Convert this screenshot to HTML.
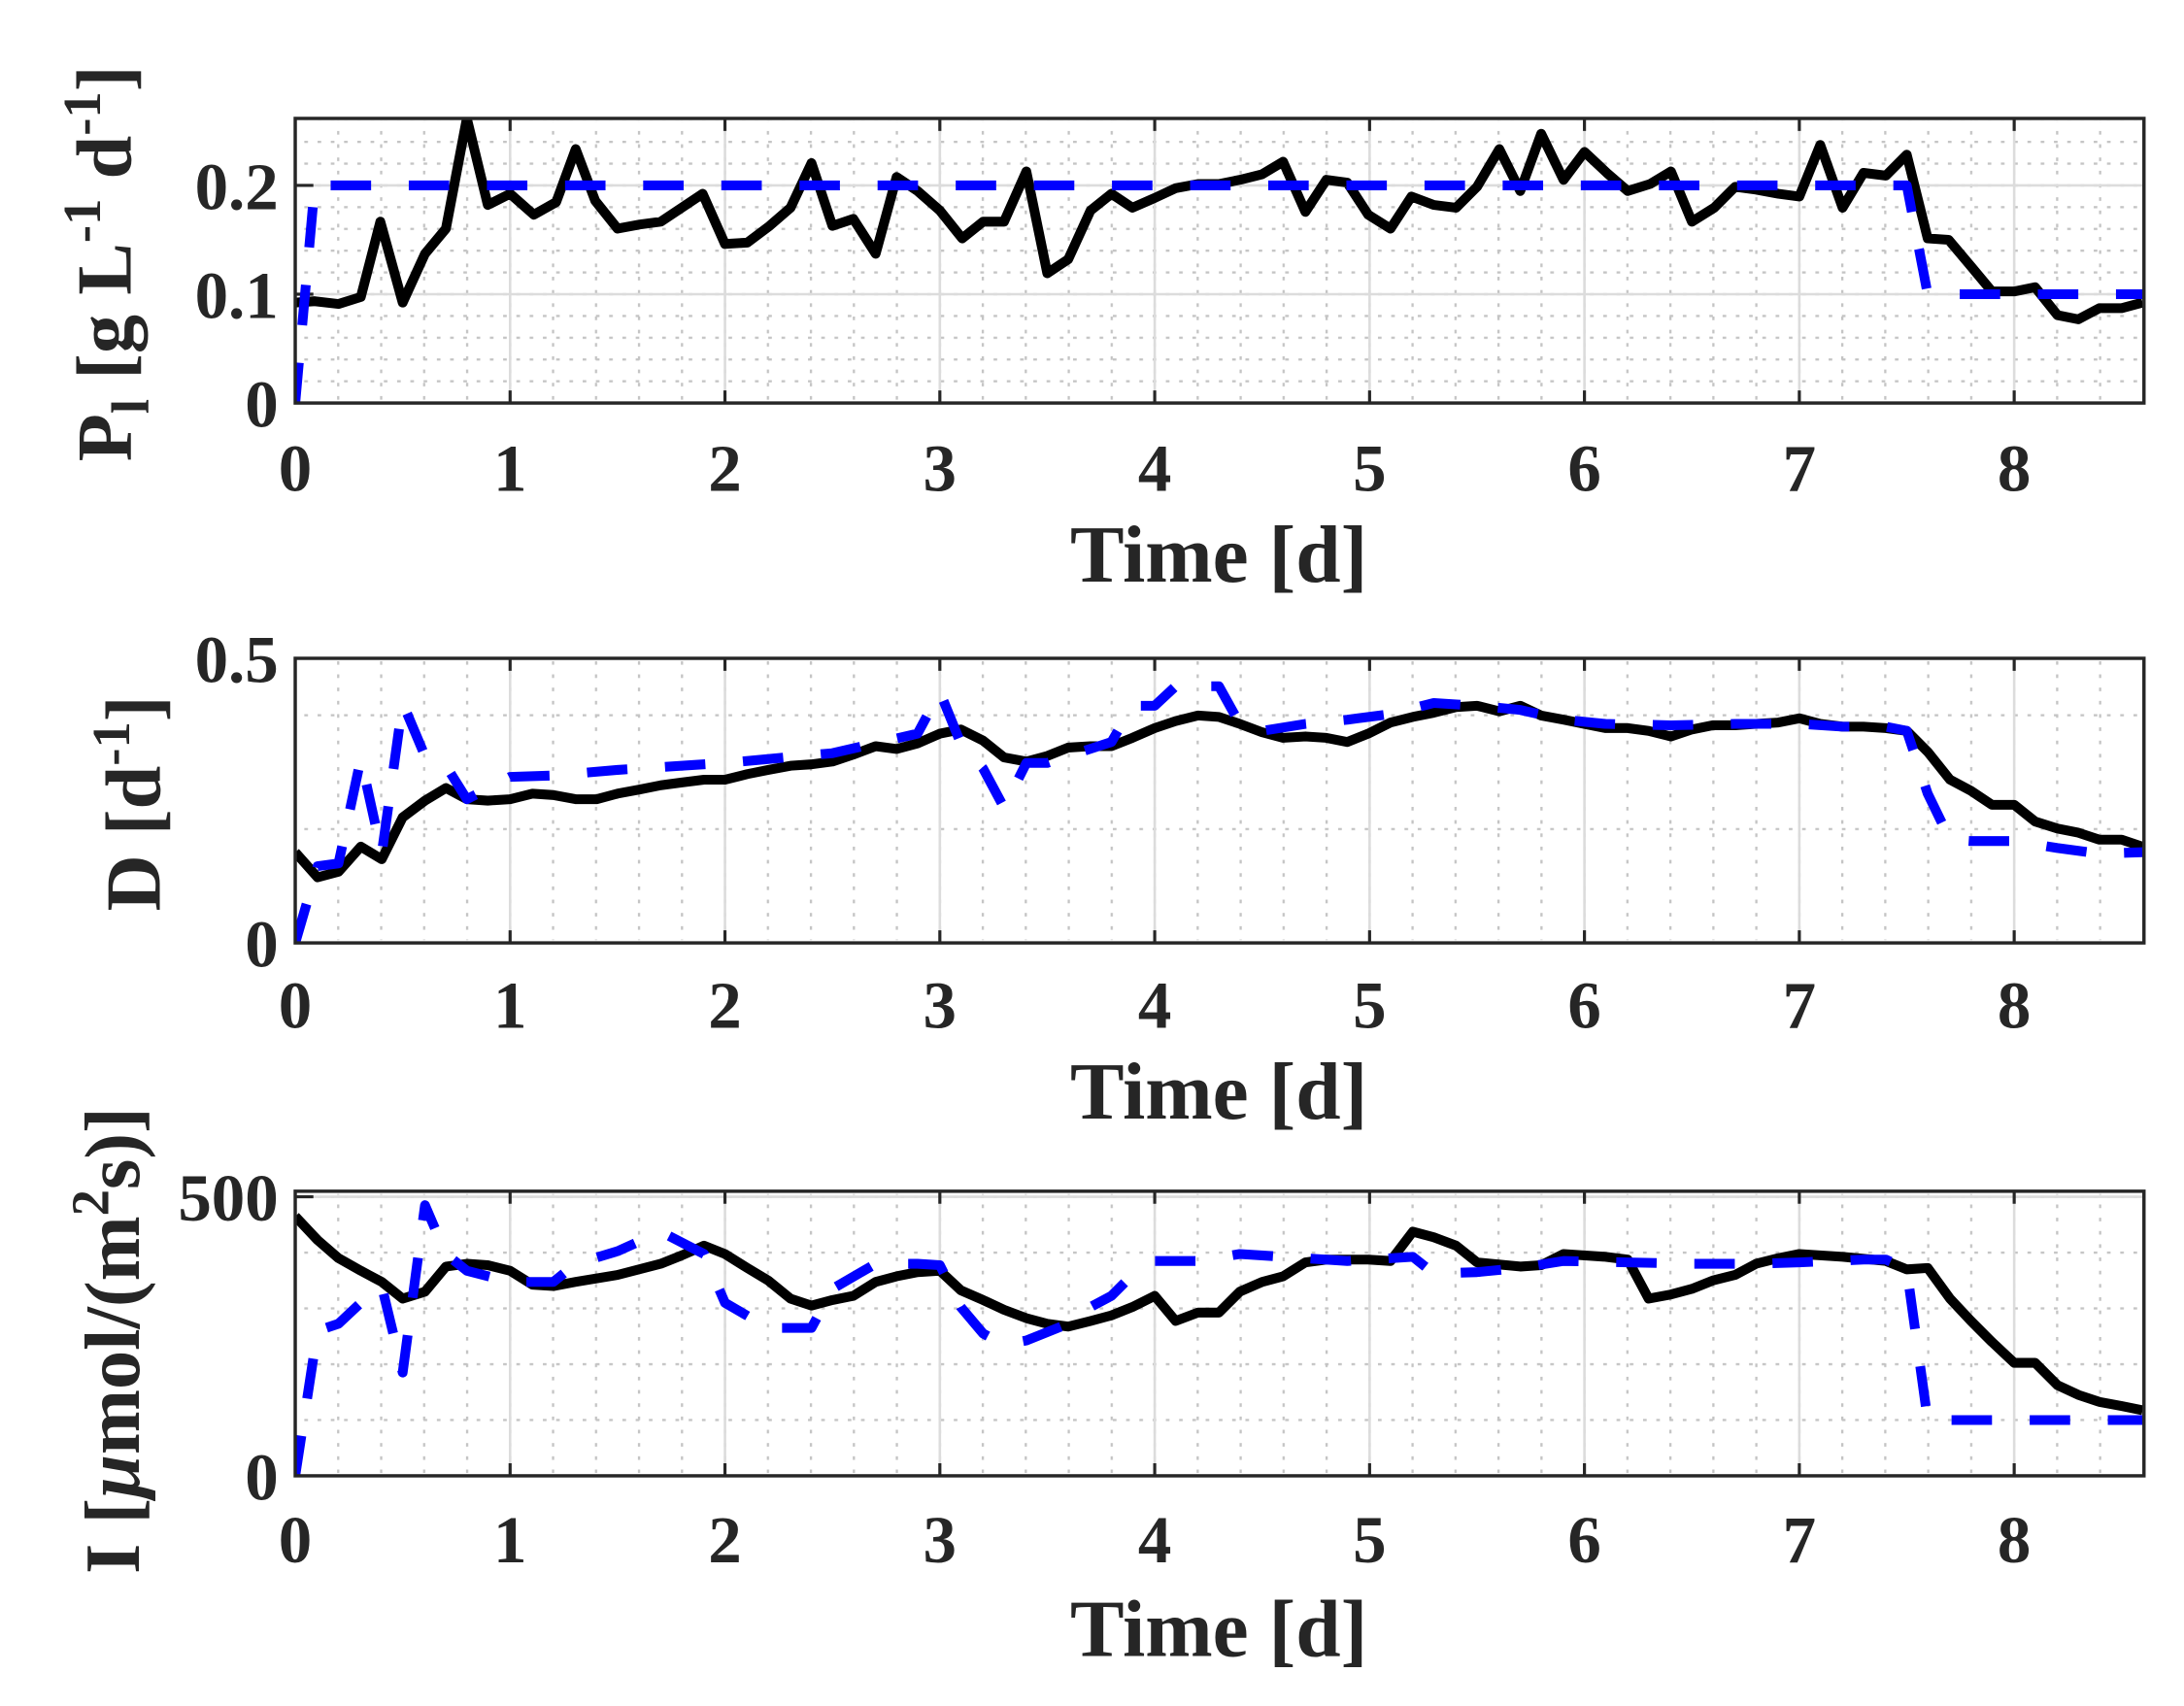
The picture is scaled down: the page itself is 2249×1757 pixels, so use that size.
<!DOCTYPE html>
<html><head><meta charset="utf-8"><style>
html,body{margin:0;padding:0;background:#fff;}
svg{display:block;}
text{font-family:"Liberation Serif",serif;font-weight:bold;fill:#262626;}
</style></head><body>
<svg width="2249" height="1757" viewBox="0.4 1.1 1565.3 1222.9" preserveAspectRatio="none" xmlns="http://www.w3.org/2000/svg">
<defs>
<clipPath id="c1"><rect x="212" y="86" width="1325" height="204"/></clipPath>
<clipPath id="c2"><rect x="212" y="473" width="1325" height="204"/></clipPath>
<clipPath id="c3"><rect x="212" y="855" width="1325" height="204"/></clipPath>
<pattern id="pv" x="211.2" y="0" width="30.8" height="9.5" patternUnits="userSpaceOnUse"><rect x="0" y="0" width="1.6" height="2.6" fill="#c4c4c4"/></pattern>
<pattern id="ph1" x="0" y="289.2" width="9.5" height="15.6" patternUnits="userSpaceOnUse"><rect x="0" y="0" width="2.6" height="1.6" fill="#c4c4c4"/></pattern>
<pattern id="ph2" x="0" y="676.2" width="9.5" height="81.6" patternUnits="userSpaceOnUse"><rect x="0" y="0" width="2.6" height="1.6" fill="#c4c4c4"/></pattern>
<pattern id="ph3" x="0" y="1058.2" width="9.5" height="40" patternUnits="userSpaceOnUse"><rect x="0" y="0" width="2.6" height="1.6" fill="#c4c4c4"/></pattern>
</defs>
<!-- minor grids -->
<rect x="214" y="88" width="1321" height="200" fill="url(#pv)"/>
<rect x="214" y="88" width="1321" height="200" fill="url(#ph1)"/>
<rect x="214" y="475" width="1321" height="200" fill="url(#pv)"/>
<rect x="214" y="475" width="1321" height="200" fill="url(#ph2)"/>
<rect x="214" y="857" width="1321" height="200" fill="url(#pv)"/>
<rect x="214" y="857" width="1321" height="200" fill="url(#ph3)"/>
<!-- major grids -->
<g stroke="#dcdcdc" stroke-width="1.8" fill="none">
<path d="M366,86V290M520,86V290M674,86V290M828,86V290M982,86V290M1136,86V290M1290,86V290M1444,86V290M212,134H1537M212,212H1537"/>
<path d="M366,473V677M520,473V677M674,473V677M828,473V677M982,473V677M1136,473V677M1290,473V677M1444,473V677"/>
<path d="M366,855V1059M520,855V1059M674,855V1059M828,855V1059M982,855V1059M1136,855V1059M1290,855V1059M1444,855V1059M212,859H1537"/>
</g>
<!-- ticks -->
<g stroke="#262626" stroke-width="2.2" fill="none">
<path d="M366,290v-9M520,290v-9M674,290v-9M828,290v-9M982,290v-9M1136,290v-9M1290,290v-9M1444,290v-9M366,86v9M520,86v9M674,86v9M828,86v9M982,86v9M1136,86v9M1290,86v9M1444,86v9M212,134h13M212,212h13"/>
<path d="M366,677v-9M520,677v-9M674,677v-9M828,677v-9M982,677v-9M1136,677v-9M1290,677v-9M1444,677v-9M366,473v9M520,473v9M674,473v9M828,473v9M982,473v9M1136,473v9M1290,473v9M1444,473v9"/>
<path d="M366,1059v-9M520,1059v-9M674,1059v-9M828,1059v-9M982,1059v-9M1136,1059v-9M1290,1059v-9M1444,1059v-9M366,855v9M520,855v9M674,855v9M828,855v9M982,855v9M1136,855v9M1290,855v9M1444,855v9M212,859h13"/>
</g>
<g fill="none" stroke-linejoin="round">
<g clip-path="url(#c1)">
<polyline stroke="#000" stroke-width="7" points="212,218 226,217 243,219 259,214 273,160 289,218 305,183 320,165 335,86 350,148 366,140 383,155 399,146 413,108 427,145 443,165 459,162 474,160 489,150 504,140 520,176 536,175 552,163 567,150 582,118 597,163 612,158 628,183 643,128 658,138 674,152 690,172 705,160 720,160 736,124 751,197 766,187 782,152 797,140 812,150 828,143 843,136 859,133 874,133 889,130 905,126 920,117 936,153 951,130 966,132 981,155 997,165 1012,142 1028,148 1044,150 1059,135 1075,108 1090,138 1105,97 1121,130 1136,110 1152,125 1167,138 1183,133 1198,124 1213,160 1229,150 1244,135 1259,137 1275,140 1290,142 1305,105 1321,150 1336,125 1352,127 1367,112 1382,172 1397,173 1413,192 1428,210 1444,210 1459,207 1475,227 1490,230 1505,222 1521,222 1536,218"/>
<polyline stroke="#0000ff" stroke-width="7" stroke-dasharray="29 27" points="212,290 226,134 1367,134 1382,212 1536,212"/>
</g>
<g clip-path="url(#c2)">
<polyline stroke="#000" stroke-width="7" points="212,612 228,630 243,626 259,608 274,617 289,587 305,575 320,566 335,574 350,575 366,574 382,570 397,571 413,574 428,574 443,570 459,567 474,564 489,562 505,560 520,560 536,556 551,553 567,550 582,549 597,547 612,542 628,536 643,538 658,534 674,527 689,524 705,532 720,544 736,547 751,543 766,537 782,536 797,536 812,530 828,523 843,518 859,514 874,515 889,520 905,526 920,530 936,529 951,530 966,533 981,527 997,519 1013,515 1028,512 1044,508 1059,507 1075,511 1090,507 1105,514 1121,517 1136,520 1151,523 1167,523 1182,525 1198,529 1213,524 1228,521 1244,521 1259,520 1275,519 1290,516 1305,520 1321,522 1336,522 1352,523 1367,525 1382,540 1398,560 1413,568 1428,578 1444,578 1459,590 1475,595 1490,598 1505,603 1521,603 1536,608"/>
<polyline stroke="#0000ff" stroke-width="7" stroke-dasharray="29 27" points="212,677 228,622 243,620 259,545 274,613 289,505 305,543 320,550 335,574 366,558 397,557 443,553 520,548 597,541 658,527 674,497 689,534 705,552 720,580 736,548 751,548 766,543 797,533 812,507 828,507 843,493 874,493 889,520 905,525 936,520 966,517 997,513 1028,505 1059,507 1090,510 1121,517 1151,520 1198,521 1244,520 1290,520 1321,522 1352,522 1367,525 1382,570 1398,603 1413,604 1444,604 1475,609 1505,613 1536,612"/>
</g>
<g clip-path="url(#c3)">
<polyline stroke="#000" stroke-width="7" points="212,873 228,890 243,903 259,912 274,920 289,932 305,927 320,909 335,907 350,908 366,912 382,922 397,923 413,920 443,915 474,907 489,901 505,894 520,900 536,910 551,919 567,932 582,937 597,933 612,930 628,920 643,916 658,913 674,912 689,926 705,933 720,940 736,946 751,950 766,952 782,948 797,944 812,938 828,930 843,948 859,942 874,942 889,927 905,920 920,916 936,906 951,904 981,904 997,905 1013,884 1028,888 1044,894 1059,906 1090,909 1105,908 1121,900 1151,902 1167,904 1182,932 1198,929 1213,925 1228,919 1244,915 1259,907 1275,903 1290,900 1321,902 1352,905 1367,911 1382,910 1398,932 1413,948 1428,963 1444,978 1459,978 1475,994 1490,1001 1505,1006 1521,1009 1536,1012"/>
<polyline stroke="#0000ff" stroke-width="7" stroke-dasharray="29 27" points="212,1059 228,955 243,950 259,935 274,923 289,985 305,865 320,900 335,912 366,920 397,920 413,907 443,898 474,884 505,900 520,935 551,953 582,953 597,925 628,907 658,907 674,908 689,938 705,957 720,965 736,962 766,950 782,938 797,930 812,915 828,905 859,905 889,900 920,902 966,905 1013,902 1028,914 1059,913 1090,910 1121,905 1167,906 1213,907 1259,907 1290,906 1336,904 1352,904 1367,911 1382,1019 1398,1019 1536,1019"/>
</g>
</g>
<g fill="none" stroke="#262626" stroke-width="2.4">
<rect x="212" y="86" width="1325" height="204"/>
<rect x="212" y="473" width="1325" height="204"/>
<rect x="212" y="855" width="1325" height="204"/>
</g>
<g font-size="48" text-anchor="middle">
<text x="212" y="353">0</text><text x="366" y="353">1</text><text x="520" y="353">2</text><text x="674" y="353">3</text><text x="828" y="353">4</text><text x="982" y="353">5</text><text x="1136" y="353">6</text><text x="1290" y="353">7</text><text x="1444" y="353">8</text>
<text x="212" y="738">0</text><text x="366" y="738">1</text><text x="520" y="738">2</text><text x="674" y="738">3</text><text x="828" y="738">4</text><text x="982" y="738">5</text><text x="1136" y="738">6</text><text x="1290" y="738">7</text><text x="1444" y="738">8</text>
<text x="212" y="1121">0</text><text x="366" y="1121">1</text><text x="520" y="1121">2</text><text x="674" y="1121">3</text><text x="828" y="1121">4</text><text x="982" y="1121">5</text><text x="1136" y="1121">6</text><text x="1290" y="1121">7</text><text x="1444" y="1121">8</text>
</g>
<g font-size="48" text-anchor="end">
<text x="200" y="151">0.2</text><text x="200" y="229">0.1</text><text x="200" y="307">0</text>
<text x="200" y="490">0.5</text><text x="200" y="694">0</text>
<text x="200" y="876">500</text><text x="200" y="1076">0</text>
</g>
<g font-size="58" text-anchor="middle">
<text x="874" y="418">Time [d]</text>
<text x="874" y="803">Time [d]</text>
<text x="874" y="1188">Time [d]</text>
</g>
<g font-size="56" text-anchor="middle">
<text transform="translate(94,190) rotate(-90)">P<tspan font-size="38" dy="13">l</tspan><tspan dy="-13"> [g L</tspan><tspan font-size="38" dy="-22">-1</tspan><tspan dy="22"> d</tspan><tspan font-size="38" dy="-22">-1</tspan><tspan dy="22">]</tspan></text>
<text transform="translate(115,577) rotate(-90)">D [d<tspan font-size="38" dy="-22">-1</tspan><tspan dy="22">]</tspan></text>
<text transform="translate(100,962) rotate(-90)">I [<tspan font-style="italic">μ</tspan>mol/(m<tspan font-size="38" dy="-22">2</tspan><tspan dy="22">s)]</tspan></text>
</g>
</svg>
</body></html>
